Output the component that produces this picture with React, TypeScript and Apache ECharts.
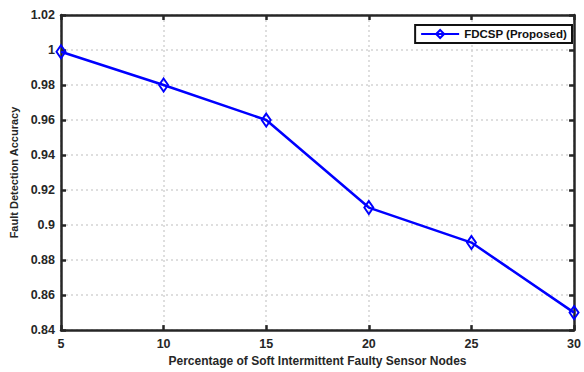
import React, { useEffect, useRef } from "react";
import * as echarts from "echarts";

// Percentage of soft intermittent faulty sensor nodes
const faultyPercent = [5, 10, 15, 20, 25, 30];
// Fault detection accuracy of FDCSP
const fdcspAccuracy = [0.999, 0.98, 0.96, 0.91, 0.89, 0.85];
const seriesName = "FDCSP (Proposed)";

const FONT = "Liberation Sans, Arial, sans-serif";

const fmt = (v: number) => String(parseFloat(v.toFixed(2)));

export default function App() {
  const ref = useRef<HTMLDivElement>(null);

  useEffect(() => {
    if (!ref.current) return;
    const chart = echarts.init(ref.current, null, { renderer: "svg" });
    const gridLine = { show: true, lineStyle: { color: "#d4d4d4", type: [2, 3], width: 1.5 } };
    const axisLine = { show: true, lineStyle: { color: "#262626", width: 2.5 } };
    const tick = { show: true, inside: true, length: 5, lineStyle: { color: "#262626", width: 2.5 } };
    const labelStyle = { fontFamily: FONT, fontWeight: "bold" as const, fontSize: 12.5, color: "#262626" };

    chart.setOption({
      animation: false,
      backgroundColor: "#ffffff",
      grid: { left: 61, right: 2, top: 15, bottom: 38, containLabel: false },
      legend: {
        right: 12,
        top: 25,
        orient: "vertical",
        data: [seriesName],
        borderColor: "#111",
        borderWidth: 2,
        padding: [3, 5, 3, 5],
        backgroundColor: "#fff",
        itemWidth: 38,
        itemHeight: 10,
        itemGap: 2,
        textStyle: { fontFamily: FONT, fontWeight: "bold", fontSize: 11.5, color: "#111" },
      },
      xAxis: [
        {
          type: "value",
          min: 5,
          max: 30,
          interval: 5,
          name: "Percentage of Soft Intermittent Faulty Sensor Nodes",
          nameLocation: "middle",
          nameGap: 24,
          nameTextStyle: { fontFamily: FONT, fontWeight: "bold", fontSize: 12, color: "#262626" },
          axisLine,
          axisTick: tick,
          axisLabel: { ...labelStyle, margin: 7, formatter: (v: number) => String(v) },
          splitLine: gridLine,
        },
        {
          type: "value",
          position: "top",
          min: 5,
          max: 30,
          interval: 5,
          axisLine,
          axisTick: tick,
          axisLabel: { show: false },
          splitLine: { show: false },
        },
      ],
      yAxis: [
        {
          type: "value",
          min: 0.84,
          max: 1.02,
          interval: 0.02,
          name: "Fault Detection Accuracy",
          nameLocation: "middle",
          nameGap: 38,
          nameTextStyle: { fontFamily: FONT, fontWeight: "bold", fontSize: 11, color: "#262626" },
          axisLine,
          axisTick: tick,
          axisLabel: { ...labelStyle, margin: 6, formatter: fmt },
          splitLine: gridLine,
        },
        {
          type: "value",
          position: "right",
          min: 0.84,
          max: 1.02,
          interval: 0.02,
          axisLine,
          axisTick: tick,
          axisLabel: { show: false },
          splitLine: { show: false },
        },
      ],
      series: [
        {
          name: seriesName,
          type: "line",
          data: faultyPercent.map((x, i) => [x, fdcspAccuracy[i]]),
          symbol: "diamond",
          symbolSize: [9, 13],
          showAllSymbol: true,
          lineStyle: { color: "#0000ff", width: 2.5 },
          itemStyle: { color: "rgba(255,255,255,0)", borderColor: "#0000ff", borderWidth: 2 },
          clip: false,
          z: 3,
        },
      ],
    });
    return () => chart.dispose();
  }, []);

  return (
    <div
      ref={ref}
      style={{ position: "absolute", left: 0, top: 0, width: 584, height: 372, overflow: "hidden" }}
    />
  );
}
